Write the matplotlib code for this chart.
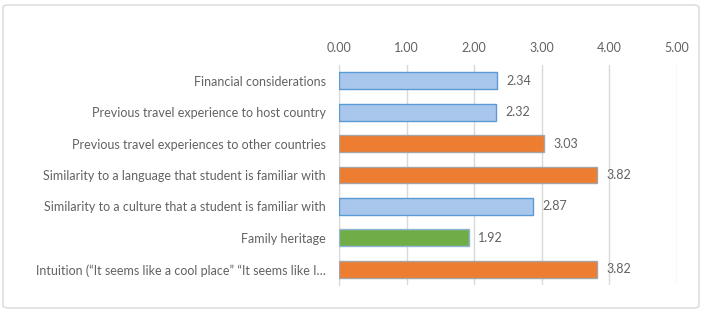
import numpy as np
import matplotlib.pyplot as plt
from matplotlib.patches import FancyBboxPatch

plt.rcParams["font.family"] = ["Lato", "DejaVu Sans"]

# Data
categories = [
    "Financial considerations",
    "Previous travel experience to host country",
    "Previous travel experiences to other countries",
    "Similarity to a language that student is familiar with",
    "Similarity to a culture that a student is familiar with",
    "Family heritage",
    "Intuition (\u201cIt seems like a cool place\u201d \u201cIt seems like I\u2026",
]
values = [2.34, 2.32, 3.03, 3.82, 2.87, 1.92, 3.82]
groups = ["blue", "blue", "orange", "orange", "blue", "green", "orange"]
xticks = [0, 1, 2, 3, 4, 5]

fill = {"blue": "#a9c7ec", "orange": "#ed7d31", "green": "#70ad47"}
edge = {"blue": "#5b9bd5", "orange": "#a5a5a5", "green": "#8fb6d8"}
text_col = "#626262"

fig = plt.figure(figsize=(7.02, 3.15), dpi=100)
fig.patches.append(FancyBboxPatch((3 / 702, 7 / 315), 696 / 702, 303 / 315,
                                  boxstyle="round,pad=0,rounding_size=0.008",
                                  transform=fig.transFigure, fill=False,
                                  edgecolor="#d9d9d9", linewidth=1.0))

ax = fig.add_axes([339 / 702, 30 / 315, 338 / 702, 220 / 315])
y = np.arange(len(categories))
ax.barh(y, values, height=0.54,
        color=[fill[g] for g in groups],
        edgecolor=[edge[g] for g in groups], linewidth=1.0, zorder=3)

for yi, v in zip(y, values):
    ax.text(v + 0.14, yi, f"{v:.2f}", va="center", ha="left",
            fontsize=9, color=text_col)

ax.set_xlim(0, 5)
ax.set_ylim(len(categories) - 0.5, -0.5)
ax.set_xticks(xticks)
ax.set_xticklabels([f"{t:.2f}" for t in xticks])
ax.xaxis.tick_top()
ax.tick_params(axis="x", length=0, pad=8, labelsize=9, labelcolor=text_col)
ax.set_yticks(y)
ax.set_yticklabels(categories)
ax.tick_params(axis="y", length=0, pad=9.5, labelsize=9, labelcolor=text_col)
ax.grid(axis="x", color="#d9d9d9", linewidth=1.0, zorder=0)
for s in ["top", "right", "bottom"]:
    ax.spines[s].set_visible(False)
ax.spines["left"].set_color("#d9d9d9")

fig.savefig("out.png", dpi=100)
